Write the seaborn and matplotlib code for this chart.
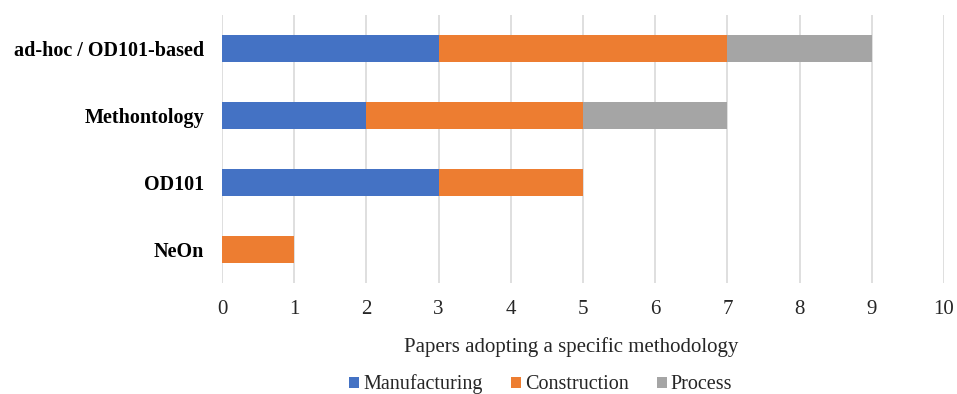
import matplotlib
matplotlib.use("Agg")
import matplotlib.pyplot as plt
import seaborn as sns
import pandas as pd
import numpy as np
from matplotlib.patches import Patch

methods = ["ad-hoc / OD101-based", "Methontology", "OD101", "NeOn"]
manufacturing = [3, 2, 3, 0]
construction = [4, 3, 2, 1]
process = [2, 2, 0, 0]
series_names = ["Manufacturing", "Construction", "Process"]
colors = ["#4472C4", "#ED7D31", "#A5A5A5"]
x_ticks = list(range(0, 11))

sns.set_theme(style="white")
plt.rcParams["font.family"] = ["Liberation Serif", "DejaVu Serif"]

fig = plt.figure(figsize=(9.57, 3.94), dpi=100)
ax = fig.add_axes([0.232, 0.2817, 0.7544, 0.6802])

df = pd.DataFrame({"method": methods, "Manufacturing": manufacturing,
                   "Construction": construction, "Process": process})

# stacked bars: each series is drawn as its cumulative total, earlier series on top
left = np.zeros(len(methods))
for name, col in zip(series_names, colors):
    seg = df[name].to_numpy(dtype=float)
    sns.barplot(x=left + seg, y=df["method"], color=col, orient="h",
                width=0.4, ax=ax, saturation=1, linewidth=0)
    left = left + seg

for i, cont in enumerate(ax.containers):
    for bar in cont:
        bar.set_zorder(3 - i)

ax.set_xlim(0, 10)
ax.set_ylim(3.5, -0.5)
ax.set_xticks(x_ticks)
ax.set_xticklabels([str(t) for t in x_ticks], fontsize=15, color="#262626")
ax.tick_params(axis="y", labelsize=14.5, length=0, pad=13, labelcolor="black")
ax.tick_params(axis="x", length=0, pad=12)
for lbl in ax.get_yticklabels():
    lbl.set_fontweight("bold")
ax.set_ylabel("")
ax.set_xlabel("Papers adopting a specific methodology", fontsize=15,
              labelpad=13, color="#262626")
ax.xaxis.label.set_x(0.4834)
ax.xaxis.grid(True, color="#D9D9D9", linewidth=1.2, zorder=0)
ax.set_axisbelow(True)
for s in ax.spines.values():
    s.set_visible(False)

handles = [Patch(facecolor=c, edgecolor="none", label=n) for n, c in zip(series_names, colors)]
leg = fig.legend(handles=handles, loc="center", bbox_to_anchor=(0.565, 0.024),
                 ncol=3, frameon=False, fontsize=14.5, handlelength=0.5, handleheight=0.5,
                 handletextpad=0.2, columnspacing=1.4)
for t in leg.get_texts():
    t.set_color("#262626")

fig.savefig("out.png", dpi=100)
